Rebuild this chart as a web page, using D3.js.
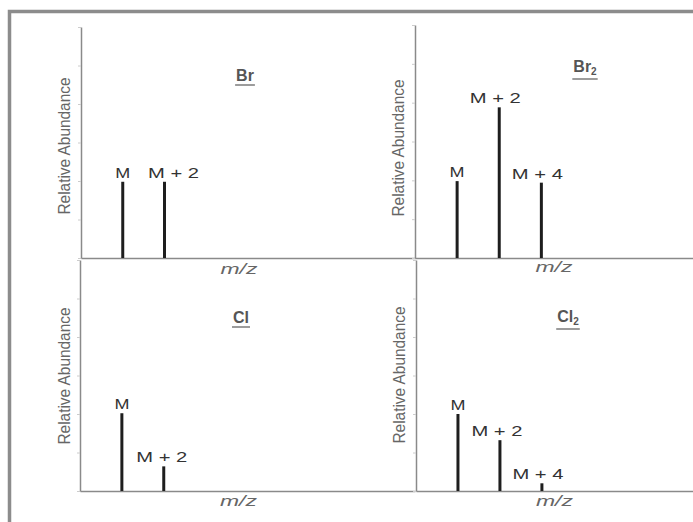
<!DOCTYPE html>
<meta charset="utf-8">
<style>
body { margin: 0; background: #fff; }
.axis path { stroke: #8a8a8a; stroke-width: 1.5px; }
.axis line { stroke: #ccc; }
.axis text { display: none; }
.peak { stroke: #1e1e1e; stroke-width: 3px; }
.lbl { font: 15px "Liberation Sans", Arial, sans-serif; fill: #333; }
.ttl { font: bold 16px "Liberation Sans", Arial, sans-serif; fill: #555; }
.mz { font: italic 14px "Liberation Sans", Arial, sans-serif; fill: #666; }
.ra { font: 16px "Liberation Sans", Arial, sans-serif; fill: #666; }
</style>
<body>
<script src="https://cdn.jsdelivr.net/npm/d3@7"></script>
<script>

// peak positions (mass units above M) and relative abundances
var titles = ["Br", "Br2", "Cl", "Cl2"];
var peakNames = [["M", "M + 2"], ["M", "M + 2", "M + 4"], ["M", "M + 2"], ["M", "M + 2", "M + 4"]];
var peakMass = [[0, 2], [0, 2, 4], [0, 2], [0, 2, 4]];
var abundance = [[99, 99], [99, 194, 97], [101, 32], [100, 66, 10]];

// layout of the four panels (axis origin, ends)
var panels = [
  {x0: 81, x1: 415, dom: [-2, 14], y0: 258, y1: 27, tx: 245, ty: 81, mzy: 274, rax: 64, ray: 146},
  {x0: 415, x1: 693, dom: [-2, 11.2], y0: 258, y1: 25, tx: 585, ty: 72, mzy: 272, rax: 398, ray: 148},
  {x0: 80, x1: 415, dom: [-2, 14], y0: 491, y1: 260, tx: 241, ty: 323, mzy: 506, rax: 64, ray: 376},
  {x0: 416, x1: 693, dom: [-2, 11.2], y0: 491, y1: 260, tx: 568, ty: 322, mzy: 506, rax: 399, ray: 375}
];
var labelShift = [[0, 9], [0, -4, -4], [0, -2], [0, -3, -4]];

var svg = d3.select("body").append("svg")
    .attr("width", 693)
    .attr("height", 522);

// outer frame
svg.append("path")
    .attr("d", "M9.5,522V11.5H693")
    .attr("fill", "none")
    .attr("stroke", "#8c8c8c")
    .attr("stroke-width", 3.5);

panels.forEach(function(p, i) {
  var x = d3.scaleLinear().domain(p.dom).range([p.x0, p.x1]);
  var y = d3.scaleLinear().domain([0, 300]).range([p.y0, p.y1]);

  svg.append("g")
      .attr("class", "axis")
      .attr("transform", "translate(" + p.x0 + ",0)")
      .call(d3.axisLeft(y).ticks(6).tickSize(3).tickSizeOuter(0));

  svg.append("g")
      .attr("class", "axis")
      .attr("transform", "translate(0," + p.y0 + ")")
      .call(d3.axisBottom(x).tickValues([]).tickSizeOuter(0));

  var peaks = peakMass[i].map(function(m, j) {
    return {m: m, v: abundance[i][j], name: peakNames[i][j], dx: labelShift[i][j]};
  });

  svg.selectAll(".peak" + i)
      .data(peaks)
    .enter().append("line")
      .attr("class", "peak")
      .attr("x1", function(d) { return x(d.m); })
      .attr("x2", function(d) { return x(d.m); })
      .attr("y1", y(0))
      .attr("y2", function(d) { return y(d.v); });

  svg.selectAll(".lbl" + i)
      .data(peaks)
    .enter().append("text")
      .attr("class", "lbl")
      .attr("x", function(d) { return x(d.m) + d.dx; })
      .attr("y", function(d) { return y(d.v) - 4; })
      .attr("text-anchor", "middle")
      .attr("textLength", function(d) { return d.name.length > 1 ? 51 : 15; })
      .attr("lengthAdjust", "spacingAndGlyphs")
      .text(function(d) { return d.name; });

  // title with underline
  var sub = titles[i].slice(-1) === "2";
  var t = svg.append("text")
      .attr("class", "ttl")
      .attr("x", p.tx)
      .attr("y", p.ty)
      .attr("text-anchor", "middle");
  t.append("tspan").text(titles[i].replace("2", ""));
  if (sub) {
    t.append("tspan").attr("dy", 3).style("font-size", "10px").text("2");
  }
  var tw = t.node().getComputedTextLength();
  svg.append("line")
      .attr("x1", p.tx - tw / 2 - 1).attr("x2", p.tx + tw / 2 + 1)
      .attr("y1", p.ty + (sub ? 7 : 4))
      .attr("y2", p.ty + (sub ? 7 : 4))
      .attr("stroke", "#666").attr("stroke-width", 1.3);

  svg.append("text")
      .attr("class", "mz")
      .attr("x", (p.x0 + p.x1) / 2 - (i % 2 ? 0 : 9))
      .attr("y", p.mzy)
      .attr("text-anchor", "middle")
      .attr("textLength", 37)
      .attr("lengthAdjust", "spacingAndGlyphs")
      .text("m/z");

  svg.append("text")
      .attr("class", "ra")
      .attr("transform", "translate(" + (p.rax + 6) + "," + p.ray + ") rotate(-90)")
      .attr("text-anchor", "middle")
      .attr("textLength", 137)
      .attr("lengthAdjust", "spacingAndGlyphs")
      .text("Relative Abundance");
});

</script>
